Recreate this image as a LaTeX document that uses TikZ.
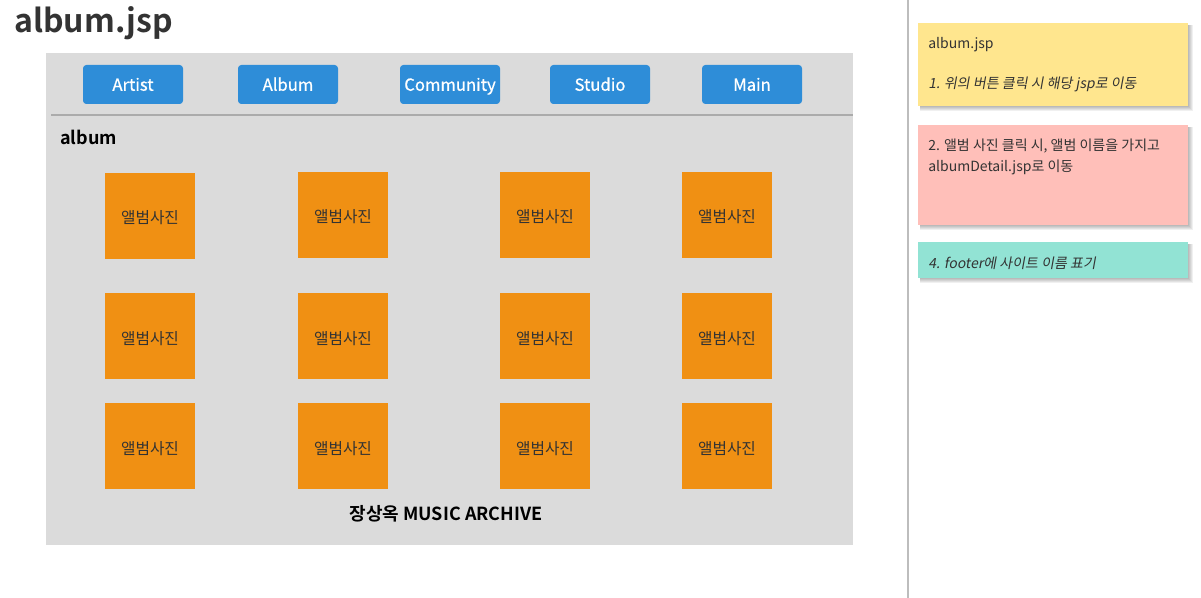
\documentclass[tikz,border=0pt]{standalone}
\usepackage{fontspec}
\setmainfont{Noto Sans CJK KR}[BoldFont={Noto Sans CJK KR Bold}, ItalicFont={Noto Sans CJK KR}, ItalicFeatures={FakeSlant=0.18}]
\newfontfamily\btnfont{Noto Sans CJK KR}[FakeBold=0.7]
\definecolor{panelgray}{HTML}{DBDBDB}
\definecolor{btnblue}{HTML}{2E8DD8}
\definecolor{photoorange}{HTML}{F09013}
\definecolor{txtgray}{HTML}{333333}
\definecolor{sepgray}{HTML}{ABABAB}
\definecolor{vline}{HTML}{BDBDBD}
\definecolor{noteyellow}{HTML}{FFE68E}
\definecolor{notepink}{HTML}{FFBFB9}
\definecolor{noteteal}{HTML}{92E3D4}
\begin{document}
\begin{tikzpicture}[x=0.75pt,y=-0.75pt,
  btn/.style={fill=btnblue, rounded corners=2.5pt, minimum width=75pt, minimum height=29.25pt, inner sep=0pt, text height=11.5pt, text depth=2.1pt, text=white, font=\btnfont\fontsize{12.5}{14}\selectfont},
  photo/.style={fill=photoorange, minimum width=67.5pt, minimum height=64pt, inner sep=0pt, text height=12.5pt, text depth=0.5pt, text=txtgray, font=\fontsize{11.8}{13}\selectfont},
  notetext/.style={anchor=base west, inner sep=0pt, text=txtgray, font=\fontsize{10.5}{12}\selectfont},
  shadowlayer/.style={fill=black, opacity=0.06}
]
\useasboundingbox (0,0) rectangle (1201,598);
\fill[white] (0,0) rectangle (1201,598);

% title
\node[anchor=base west, inner sep=0pt, text=txtgray, font=\fontsize{24}{28}\selectfont\bfseries] (title) at (14,33) {album.jsp};

% panel
\fill[panelgray] (46,53) rectangle (853,545);
\coordinate (sepL) at (51,115);
\coordinate (sepR) at (853,115);
\draw[sepgray, line width=1.5pt] (sepL) -- (sepR);

% buttons
\node[btn] (artist) at (133,84.5) {Artist};
\node[btn] (album) at (288,84.5) {Album};
\node[btn] (community) at (450,84.5) {Community};
\node[btn] (studio) at (600,84.5) {Studio};
\node[btn] (main) at (752,84.5) {Main};

% section label
\node[anchor=base west, inner sep=0pt, text=black, font=\fontsize{13.5}{16}\selectfont\bfseries] (albumlabel) at (60,145) {album};

% photos
\node[photo] (p11) at (150,216) {앨범사진};
\node[photo] (p12) at (343,215) {앨범사진};
\node[photo] (p13) at (545,215) {앨범사진};
\node[photo] (p14) at (727,215) {앨범사진};
\node[photo] (p21) at (150,336) {앨범사진};
\node[photo] (p22) at (343,336) {앨범사진};
\node[photo] (p23) at (545,336) {앨범사진};
\node[photo] (p24) at (727,336) {앨범사진};
\node[photo] (p31) at (150,446) {앨범사진};
\node[photo] (p32) at (343,446) {앨범사진};
\node[photo] (p33) at (545,446) {앨범사진};
\node[photo] (p34) at (727,446) {앨범사진};

% footer
\node[inner sep=0pt, text=black, font=\fontsize{13.5}{16}\selectfont\bfseries] (footer) at (446,514) {장상옥 MUSIC ARCHIVE};

% vertical divider
\coordinate (vtop) at (908,0);
\coordinate (vbot) at (908,598);
\draw[vline, line width=1.5pt] (vtop) -- (vbot);

% sticky notes with shadows
\foreach \ya/\yb in {23/106, 125/225, 242/278}{
  \foreach \i in {1,...,5}{
    \fill[shadowlayer] (920,\ya+2) rectangle (1188+\i,\yb+\i);
  }
}
\fill[noteyellow] (918,23) rectangle (1188,106);
\fill[notepink] (918,125) rectangle (1188,225);
\fill[noteteal] (918,242) rectangle (1188,278);

\node[notetext] (n1a) at (928,49) {album.jsp};
\node[notetext] (n1b) at (928,89) {\itshape 1. 위의 버튼 클릭 시 해당 jsp로 이동};
\node[notetext] (n2a) at (928,151) {2. 앨범 사진 클릭 시, 앨범 이름을 가지고};
\node[notetext] (n2b) at (928,172) {albumDetail.jsp로 이동};
\node[notetext] (n4) at (928,268) {\itshape 4. footer에 사이트 이름 표기};
\end{tikzpicture}
\end{document}
